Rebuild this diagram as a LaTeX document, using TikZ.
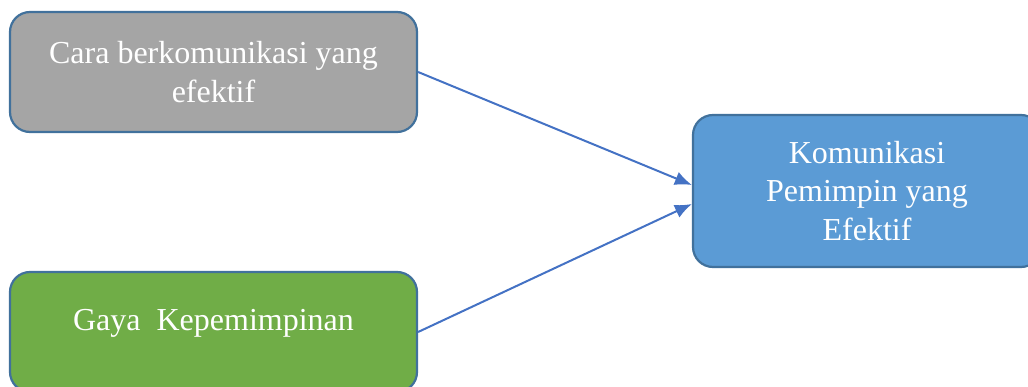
\documentclass[tikz,border=0pt]{standalone}
\usepackage{fontspec}
\setmainfont{Liberation Serif}
\usepackage{tikz}
\usetikzlibrary{arrows.meta}

\definecolor{boxline}{HTML}{41719C}
\definecolor{arrowblue}{HTML}{4472C4}
\definecolor{boxgray}{HTML}{A5A5A5}
\definecolor{boxgreen}{HTML}{70AD47}
\definecolor{boxblue}{HTML}{5B9BD5}

\tikzset{
	factor/.style={draw=boxline, line width=2.2pt, rounded corners=20pt, text=white, align=center,
		font=\fontsize{32}{38.5}\selectfont, inner sep=0pt},
	link/.style={arrowblue, line width=2pt, -{Latex[length=17pt,width=14pt]}}
}

\begin{document}
\begin{tikzpicture}[x=1pt,y=-1pt]
		\useasboundingbox (0,0) rectangle (1028,387);
		
		\node[factor, fill=boxgray, minimum width=407pt, minimum height=120pt] (cara) at (213.5,72) {Cara berkomunikasi yang\\efektif};
		\node[factor, fill=boxgreen, minimum width=407pt, minimum height=120pt, text depth=24pt] (gaya) at (213.5,332) {Gaya~~Kepemimpinan};
		\node[factor, fill=boxblue, minimum width=348pt, minimum height=152pt] (komunikasi) at (867,191) {Komunikasi\\Pemimpin yang\\Efektif};
		
		\draw[link] (cara.east) -- ([yshift=6pt]komunikasi.west);
		\draw[link] (gaya.east) -- ([yshift=-13pt]komunikasi.west);
	\end{tikzpicture}
\end{document}
